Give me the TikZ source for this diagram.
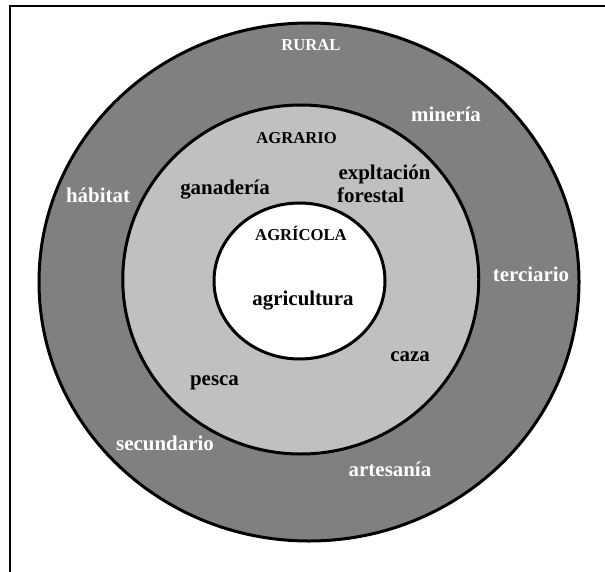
\documentclass[tikz,border=0pt]{standalone}
\usepackage{fontspec}
\setmainfont{Liberation Serif}
\tikzset{
  ring/.style={draw=black, line width=3bp},
  lw/.style={font=\bfseries\fontsize{21}{24}\selectfont, text=white, anchor=base, inner sep=0pt},
  lb/.style={font=\bfseries\fontsize{21}{24}\selectfont, text=black, anchor=base, inner sep=0pt},
  cw/.style={font=\bfseries\fontsize{16.7}{20}\selectfont, text=white, anchor=base, inner sep=0pt},
  cb/.style={font=\bfseries\fontsize{16.7}{20}\selectfont, text=black, anchor=base, inner sep=0pt},
}
\definecolor{outergray}{HTML}{808080}
\definecolor{midgray}{HTML}{C0C0C0}
\begin{document}
\begin{tikzpicture}[x=1bp,y=-1bp]
\useasboundingbox (0,0) rectangle (605,572);
\fill[white] (0,0) rectangle (605,572);
% frame
\draw[line width=2bp] (9.5,572) -- (9.5,6.5) -- (605,6.5);
% rings
\filldraw[ring, fill=outergray] (309,282) ellipse [x radius=270, y radius=259];
\filldraw[ring, fill=midgray] (300.75,279.5) ellipse [x radius=178, y radius=174.5];
\filldraw[ring, fill=white] (299.5,281) ellipse [x radius=85.5, y radius=78];
% outer ring labels
\node[cw] (rural) at (311,51) {RURAL};
\node[lw] (mineria) at (446,122) {minería};
\node[lw] (habitat) at (98,202) {hábitat};
\node[lw] (terciario) at (531,281) {terciario};
\node[lw] (secundario) at (165,450) {secundario};
\node[lw] (artesania) at (390,476) {artesanía};
% middle ring labels
\node[cb] (agrario) at (296.5,144) {AGRARIO};
\node[lb] (expl) at (384.5,180) {expltación};
\node[lb, anchor=base west] (forestal) at (337,202) {forestal};
\node[lb] (ganaderia) at (225,194) {ganadería};
\node[lb] (caza) at (410,361) {caza};
\node[lb] (pesca) at (214.5,385) {pesca};
% inner labels
\node[cb] (agricola) at (301,240) {AGRÍCOLA};
\node[lb] (agricultura) at (303,305) {agricultura};
\end{tikzpicture}
\end{document}
